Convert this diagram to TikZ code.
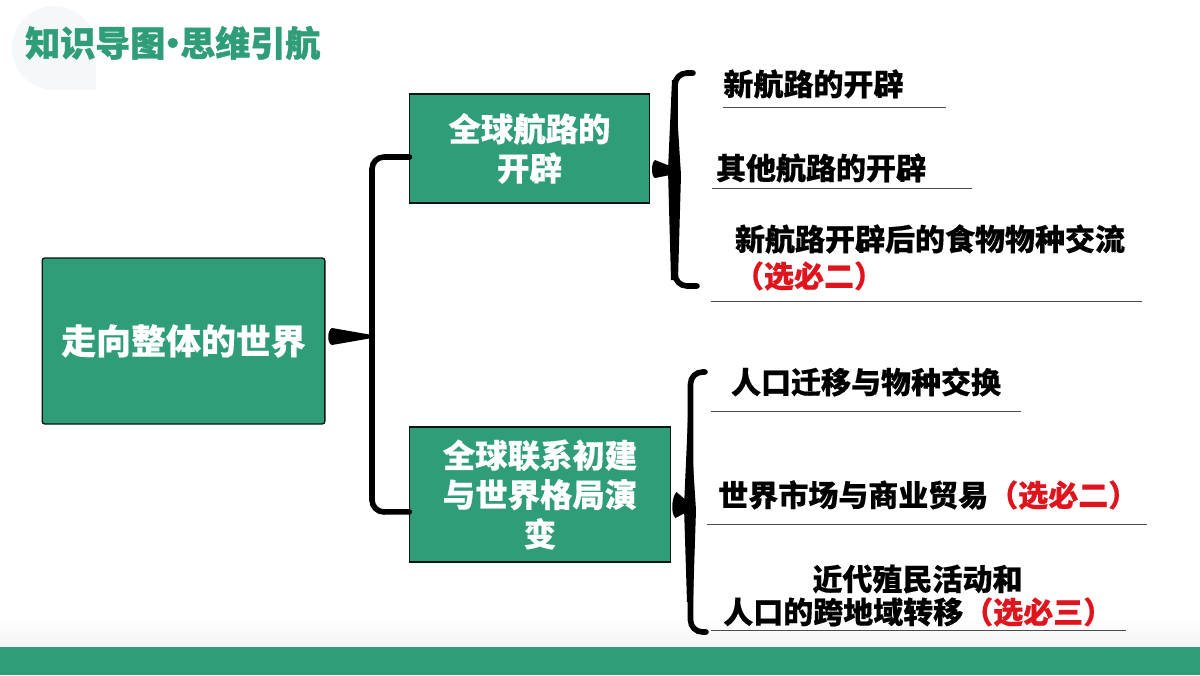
\documentclass[tikz,border=0pt]{standalone}
\usepackage{fontspec}
\setmainfont[BoldFeatures={FakeBold=0.4}]{Noto Sans CJK SC}
\newfontfamily\heavyfont[BoldFeatures={FakeBold=1.2}]{Noto Sans CJK SC}
\definecolor{boxgreen}{HTML}{2F9E78}
\definecolor{inkred}{HTML}{E0141C}
\definecolor{paleblue}{HTML}{F4F8FB}
\tikzset{
  bluebox/.style={draw=black!85!boxgreen,line width=1pt,fill=boxgreen,text=white,inner sep=0pt,outer sep=0pt,align=center,font=\bfseries\fontsize{24.3}{29.5}\selectfont},
  itemtext/.style={anchor=center,inner sep=0pt,font=\bfseries\fontsize{22.5}{27}\selectfont},
  bracket/.style={draw=black,line width=4.2pt,line cap=round,rounded corners=9pt},
  rule/.style={draw=black!70,line width=0.75pt}
}
\begin{document}
\begin{tikzpicture}[x=0.75pt,y=-0.75pt]
   \useasboundingbox (0,0) rectangle (1200,675);
   \fill[white] (0,0) rectangle (1200,675);
   \fill[paleblue] (54,48) circle [radius=31.5pt];
   \fill[paleblue] (54,48) rectangle (96,90);
   \shade[top color=white,bottom color=black!4] (0,618) rectangle (1200,645);
   \fill[boxgreen] (0,647) rectangle (1200,675);
   \node[anchor=west,inner sep=0pt,text=boxgreen,font=\heavyfont\bfseries\fontsize{26.25}{30}\selectfont] (title) at (25,43) {知识导图\makebox[0.43em][c]{·}思维引航};
   \node[bluebox,minimum width=212pt,minimum height=124.5pt,rounded corners=2pt,font=\bfseries\fontsize{26.2}{30}\selectfont] (root) at (183.5,341) {走向整体的世界};
   \node[bluebox,minimum width=180pt,minimum height=81.75pt] (boxa) at (529.5,148.5) {全球航路的\\开辟};
   \node[bluebox,minimum width=196pt,minimum height=101.25pt] (boxb) at (540,494.5) {全球联系初建\\与世界格局演\\变};
   \coordinate (jointa) at (372,336);
   \coordinate (jointb) at (675,170);
   \coordinate (jointc) at (690.5,507);
   \draw[bracket] ([yshift=-6.4pt]boxa.west) -- (372,157) -- (jointa) -- (372,512) -- ([yshift=-13pt]boxb.west);
   \fill (jointa) ++(-40,-8) .. controls +(-5,2) and +(-5,-1) .. ++(0,17) -- ++(40,-7) -- ++(0,-3) -- cycle;
   \draw[bracket] (693,73) -- (675,73) -- (jointb) -- (675,286) -- (697,286);
   \fill (jointb) ++(-20,-10) .. controls +(-4,2) and +(-4,-1) .. ++(0,18) -- ++(20,-4) -- ++(0,-6) -- cycle;
   \fill (jointb) ++(-3,-90) -- ++(-4,90) -- ++(3,110) -- ++(7,0) -- ++(3,-105) -- ++(-6,-95) -- cycle;
   \draw[bracket] (705,372) -- (690.5,372) -- (jointc) -- (690.5,632) -- (706,632);
   \fill (jointc) ++(-14,-15) .. controls +(-5,5) and +(-5,-4) .. ++(-1,26) -- ++(15,-8) -- ++(0,-6) -- cycle;
   \fill (jointc) ++(-2.5,-90) -- ++(-4,90) -- ++(3,95) -- ++(6,0) -- ++(3,-92) -- ++(-6,-93) -- cycle;
   \node[itemtext] (itema) at (813.5,84) {新航路的开辟};
   \draw[rule] (723,107)--(946,107);
   \node[itemtext] (itemb) at (821,168) {其他航路的开辟};
   \draw[rule] (712,188)--(972,188);
   \node[itemtext] (itemc) at (930,239) {新航路开辟后的食物物种交流};
   \node[itemtext,text=inkred] (itemcr) at (809,276) {（选必二）};
   \draw[rule] (711,301)--(1142,301);
   \node[itemtext] (itemd) at (866,382) {人口迁移与物种交换};
   \draw[rule] (711,411)--(1021,411);
   \node[itemtext,anchor=west] (iteme) at (718,495) {世界市场与商业贸易\textcolor{inkred}{（选必二）}};
   \draw[rule] (707,524)--(1147,524);
   \node[itemtext] (itemf) at (917.5,579) {近代殖民活动和};
   \node[itemtext,anchor=west] (itemg) at (723,612) {人口的跨地域转移\textcolor{inkred}{（选必三）}};
   \draw[rule] (711,630)--(1126,630);
\end{tikzpicture}
\end{document}
